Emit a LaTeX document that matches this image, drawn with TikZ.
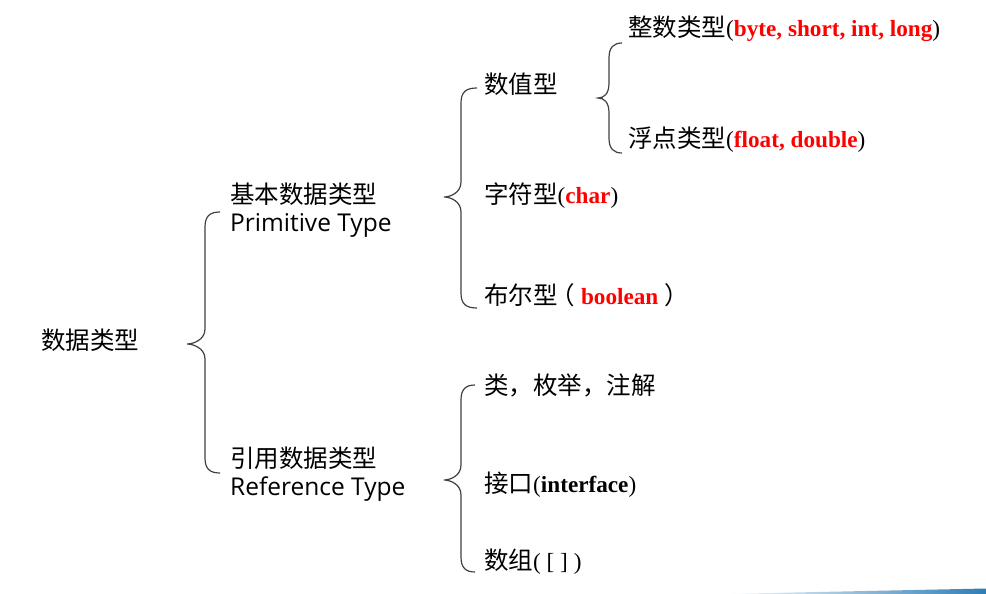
\documentclass[tikz,border=0pt]{standalone}
\usepackage{fontspec}
\setmainfont{Liberation Serif}
\newfontfamily\cjk{Noto Sans CJK SC}
\newfontfamily\latinsans{Open Sans}
\definecolor{keyred}{RGB}{255,0,0}
\definecolor{bracegray}{RGB}{64,64,64}
\definecolor{barblue}{RGB}{46,125,182}

% serif part of a label, set a little smaller than the CJK text
\newcommand\sertext[1]{{\rmfamily\fontsize{23.2}{28}\selectfont #1}}

% curly brace: #1 end x, #2 spine x, #3 tip x, #4 top y, #5 tip y, #6 bottom y
\newcommand\curlybrace[6]{%
  \draw[bracestyle] (#1,#4)
    .. controls ({#2+5},#4) and (#2,{#4+4}) .. (#2,{#4+15})
    -- (#2,{#5-15})
    .. controls (#2,{#5-4}) and ({#3+6},#5) .. (#3,#5)
    .. controls ({#3+6},#5) and (#2,{#5+4}) .. (#2,{#5+15})
    -- (#2,{#6-15})
    .. controls (#2,{#6-4}) and ({#2+5},#6) .. (#1,#6);}

\begin{document}
\begin{tikzpicture}[x=1pt,y=-1pt,
  lbl/.style={anchor=west,inner sep=0pt,font=\cjk\fontsize{24.5}{28}\selectfont,align=left},
  bracestyle/.style={draw=bracegray,line width=1.2pt}]
\useasboundingbox (0,0) rectangle (986,594);

% labels
\node[lbl] (root) at (41,340) {数据类型};
\node[lbl] (prim) at (230,210) {基本数据类型\\{\latinsans Primitive Type}};
\node[lbl] (refr) at (230,474) {引用数据类型\\{\latinsans Reference Type}};

\node[lbl] (num)  at (484,84)  {数值型};
\node[lbl] (chr)  at (484,196) {字符型\sertext{(\textbf{\color{keyred}char})}};
\node[lbl] (bool) at (484,295) {布尔型\hspace{-7pt}（\sertext{ \textbf{\color{keyred}boolean} }）};

\node[lbl] (intg) at (628,29)  {整数类型\sertext{(\textbf{\color{keyred}byte, short, int, long})}};
\node[lbl] (flt)  at (628,140) {浮点类型\sertext{(\textbf{\color{keyred}float, double})}};

\node[lbl] (cls)  at (484,385) {类，枚举，注解};
\node[lbl] (intf) at (484,485) {接口\sertext{(\textbf{interface})}};
\node[lbl] (arr)  at (484,562) {数组\sertext{( [ ] )}};

% braces
\curlybrace{220}{205}{187}{212}{344}{473}
\curlybrace{477}{461}{444}{88}{197}{308}
\curlybrace{622}{609}{598}{43}{98}{153}
\curlybrace{475}{461}{444}{385}{480}{572}

% bottom accent bar
\shade[left color=white,middle color=barblue!75,right color=barblue]
  (722,594) -- (986,588.5) -- (986,594) -- cycle;
\end{tikzpicture}
\end{document}
